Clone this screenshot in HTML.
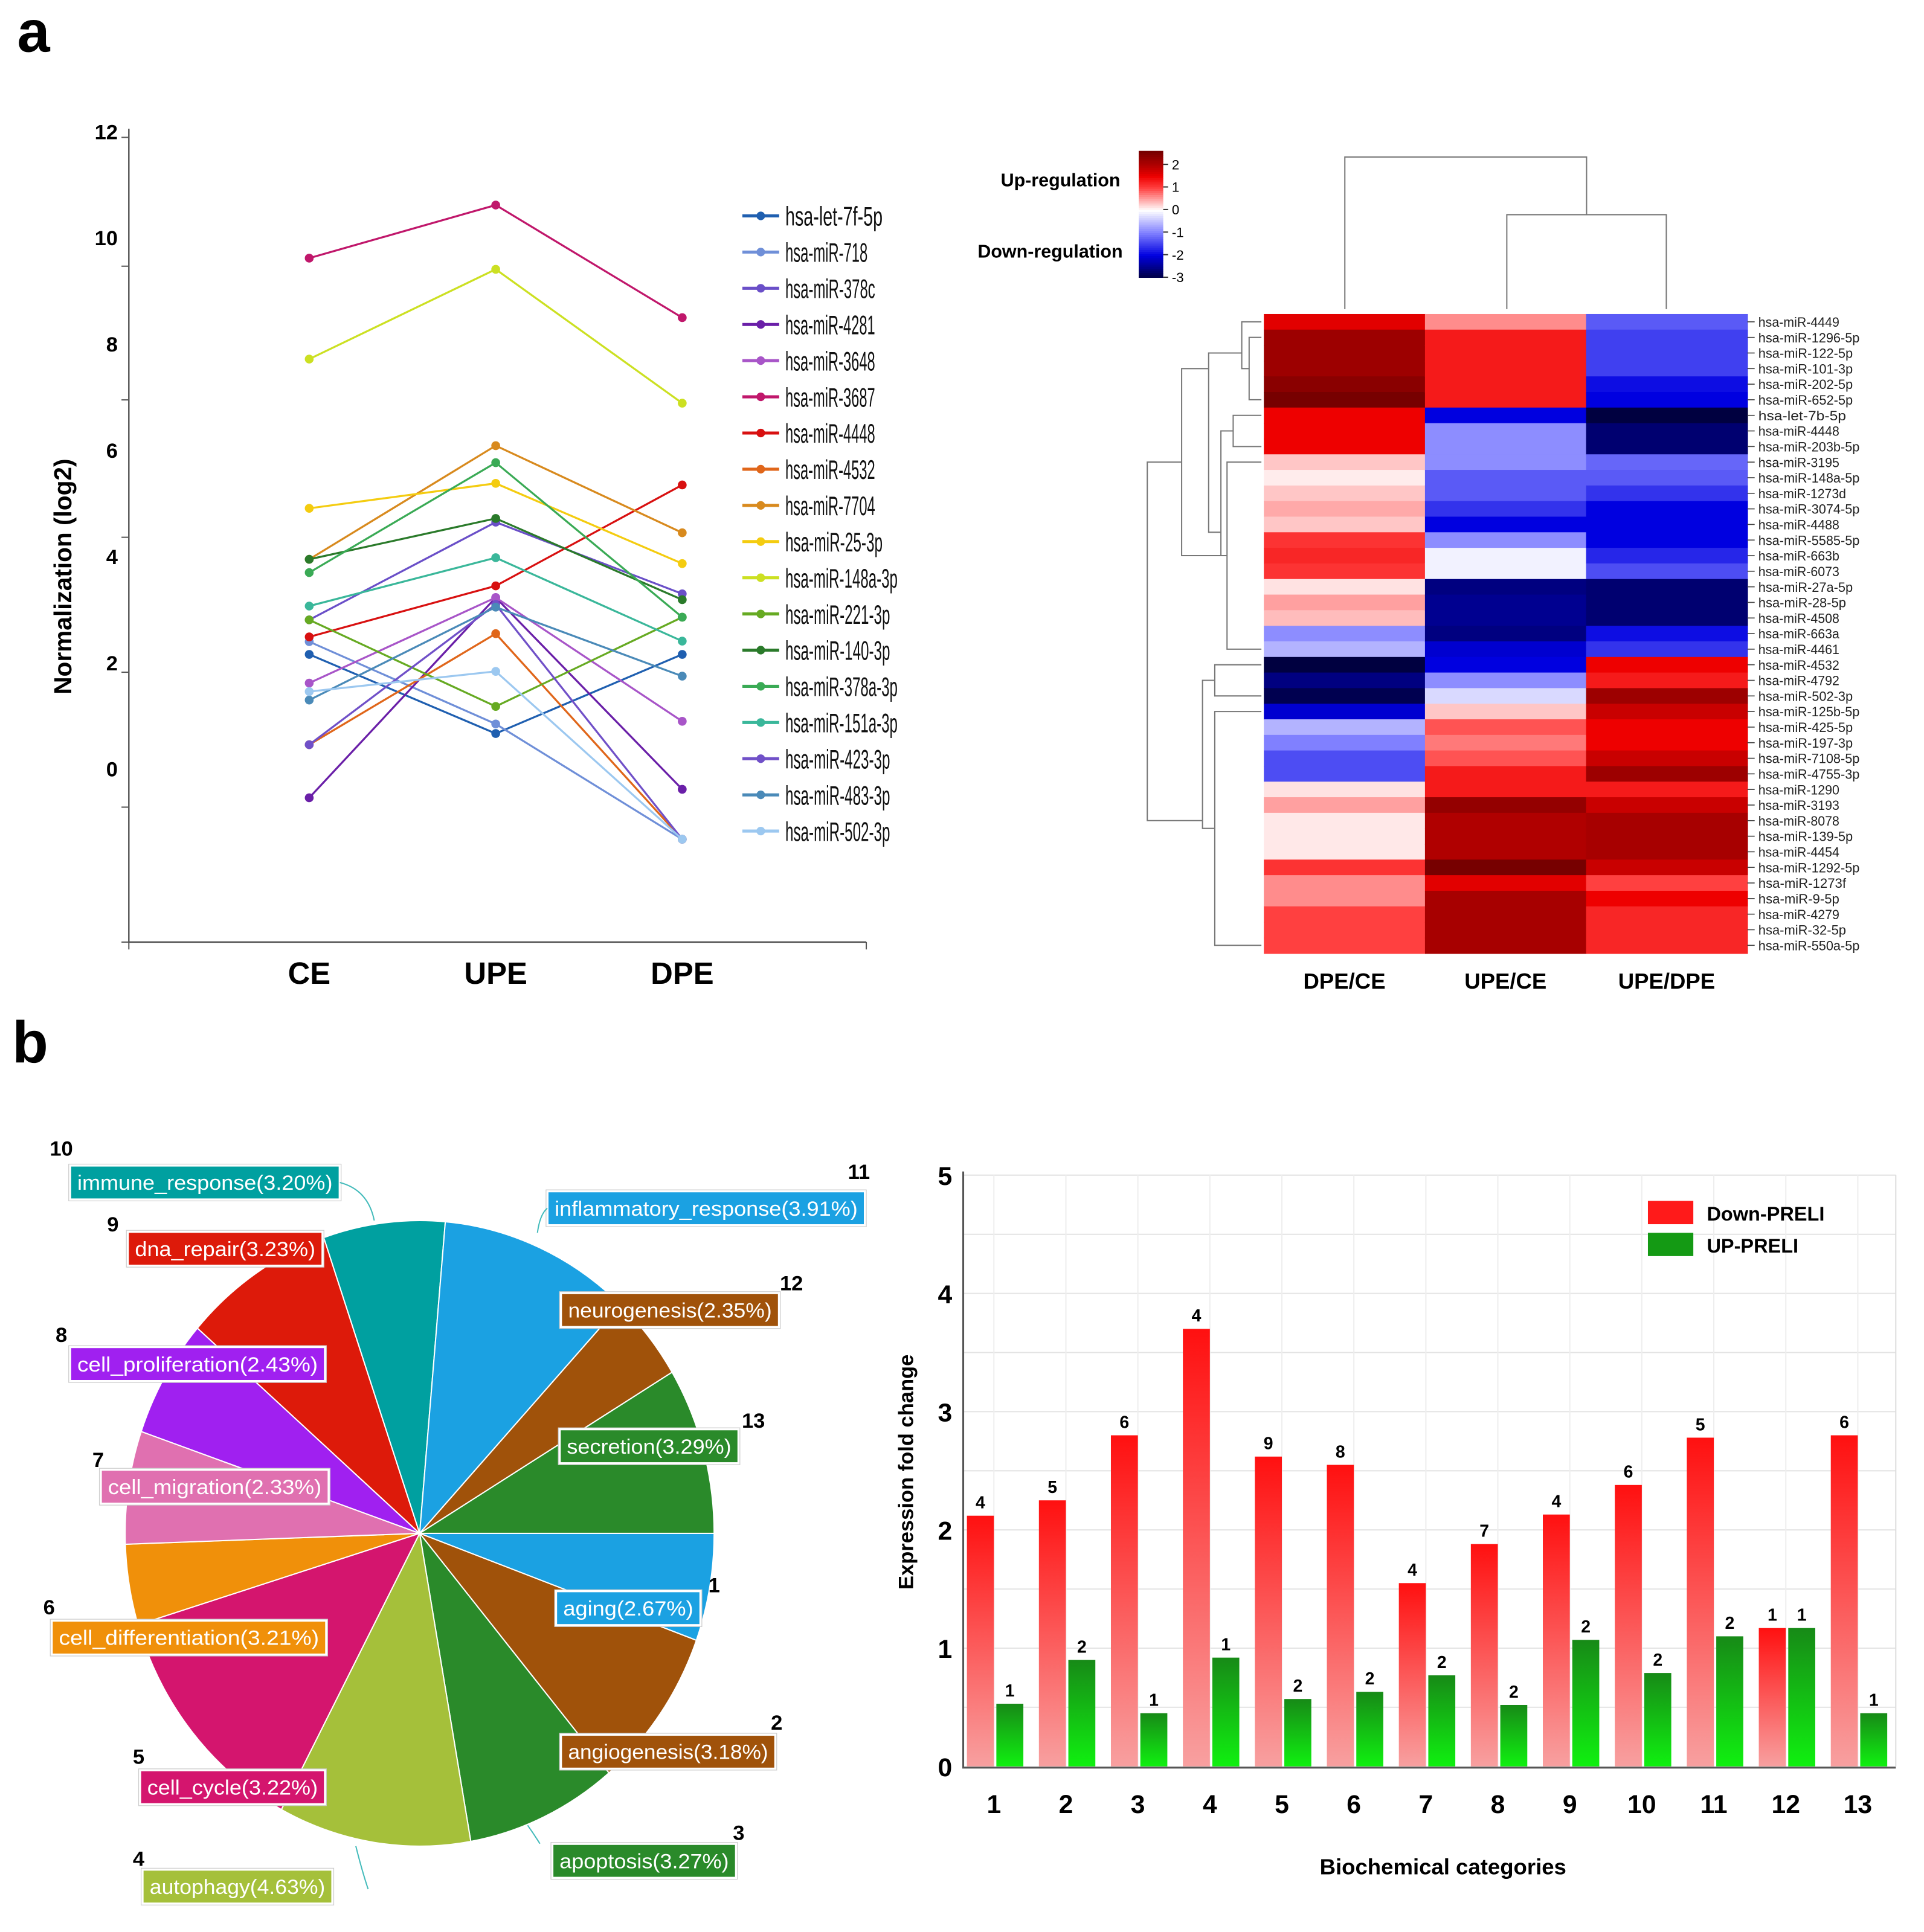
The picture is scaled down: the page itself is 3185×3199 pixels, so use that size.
<!DOCTYPE html>
<html><head><meta charset="utf-8">
<style>
html,body{margin:0;padding:0;background:#fff;}
svg{display:block;font-family:"Liberation Sans",Arial,sans-serif;}
</style></head>
<body>
<svg id="fig" width="3185" height="3199" viewBox="0 0 1568 1575" preserveAspectRatio="none" xmlns="http://www.w3.org/2000/svg">
<rect x="0" y="0" width="1568" height="1575" fill="#fff"/>
<text x="14" y="42" font-size="48" font-weight="bold">a</text>
<text x="10" y="866" font-size="48" font-weight="bold">b</text>
<g id="line"></g>
<g id="heat"></g>
<g id="pie"></g>
<g id="bar"></g>
</svg>
<script>
const NS='http://www.w3.org/2000/svg';
function mk(parent,tag,attrs,text){const e=document.createElementNS(NS,tag);for(const k in attrs)e.setAttribute(k,attrs[k]);if(text!==undefined)e.textContent=text;parent.appendChild(e);return e;}

/* ---------------- line chart data ---------------- */
const lineCategories=['CE','UPE','DPE'];
const lineSeriesNames=['hsa-let-7f-5p','hsa-miR-718','hsa-miR-378c','hsa-miR-4281','hsa-miR-3648','hsa-miR-3687','hsa-miR-4448','hsa-miR-4532','hsa-miR-7704','hsa-miR-25-3p','hsa-miR-148a-3p','hsa-miR-221-3p','hsa-miR-140-3p','hsa-miR-378a-3p','hsa-miR-151a-3p','hsa-miR-423-3p','hsa-miR-483-3p','hsa-miR-502-3p'];
const lineColors=['#1f5fb0','#6f8fd8','#6a4fc8','#6a1fa8','#a855c8','#c0176b','#d81010','#e0661a','#d88a1e','#f4cc10','#cce022','#66aa22','#2a7a2a','#3aaa55','#3ab79a','#7050c8','#4a8ab8','#9cc8f0'];
const lineValues=[
 [2.16,0.67,2.16],[2.4,0.85,-1.32],[2.81,4.65,3.3],[-0.54,3.23,-0.38],[1.62,3.23,0.9],
 [9.62,10.62,8.5],[2.49,3.45,5.35],[0.46,2.55,-1.32],[3.95,6.09,4.45],[4.91,5.38,3.87],
 [7.72,9.41,6.89],[2.81,1.18,2.86],[3.95,4.72,3.19],[3.7,5.77,2.86],[3.07,3.98,2.41],
 [0.46,3.1,-1.32],[1.3,3.05,1.75],[1.46,1.84,-1.32]];
const lineTickLabels=['12','10','8','6','4','2','0'];
const lineTickValues=[12,10,8,6,4,2,0];

/* ---------------- heatmap data ---------------- */
const heatColumns=['DPE/CE','UPE/CE','UPE/DPE'];
const heatRows=['hsa-miR-4449','hsa-miR-1296-5p','hsa-miR-122-5p','hsa-miR-101-3p','hsa-miR-202-5p','hsa-miR-652-5p','hsa-let-7b-5p','hsa-miR-4448','hsa-miR-203b-5p','hsa-miR-3195','hsa-miR-148a-5p','hsa-miR-1273d','hsa-miR-3074-5p','hsa-miR-4488','hsa-miR-5585-5p','hsa-miR-663b','hsa-miR-6073','hsa-miR-27a-5p','hsa-miR-28-5p','hsa-miR-4508','hsa-miR-663a','hsa-miR-4461','hsa-miR-4532','hsa-miR-4792','hsa-miR-502-3p','hsa-miR-125b-5p','hsa-miR-425-5p','hsa-miR-197-3p','hsa-miR-7108-5p','hsa-miR-4755-3p','hsa-miR-1290','hsa-miR-3193','hsa-miR-8078','hsa-miR-139-5p','hsa-miR-4454','hsa-miR-1292-5p','hsa-miR-1273f','hsa-miR-9-5p','hsa-miR-4279','hsa-miR-32-5p','hsa-miR-550a-5p'];
const heatDPECE=[1.6,2.2,2.2,2.2,2.4,2.6,1.5,1.5,1.5,0.3,0.1,0.3,0.45,0.3,1.1,1.2,1.1,0.15,0.5,0.35,-0.9,-0.6,-3.0,-2.6,-2.9,-2.1,-0.6,-1.0,-1.4,-1.4,0.15,0.5,0.12,0.12,0.12,1.1,0.6,0.6,1.0,1.0,1.0];
const heatUPECE=[0.6,1.3,1.3,1.3,1.3,1.3,-2.0,-0.9,-0.9,-0.9,-1.3,-1.3,-1.6,-2.0,-0.9,-0.1,-0.1,-2.6,-2.5,-2.5,-2.6,-2.1,-2.0,-0.9,-0.3,0.3,0.9,0.7,0.9,1.3,1.3,2.3,2.0,2.0,2.0,2.6,1.6,2.1,2.1,2.1,2.1];
const heatUPEDPE=[-1.3,-1.5,-1.5,-1.5,-1.9,-2.0,-3.0,-2.7,-2.7,-1.2,-1.3,-1.6,-2.0,-2.0,-2.0,-1.7,-1.4,-2.7,-2.7,-2.7,-1.9,-1.6,1.5,1.3,2.2,1.8,1.5,1.5,1.8,2.2,1.3,1.8,2.1,2.1,2.1,1.8,1.0,1.5,1.2,1.2,1.2];
const heatScaleLabels=['2','1','0','-1','-2','-3'];
const heatScaleValues=[2,1,0,-1,-2,-3];

/* ---------------- pie data ---------------- */
const pieLabels=['aging(2.67%)','angiogenesis(3.18%)','apoptosis(3.27%)','autophagy(4.63%)','cell_cycle(3.22%)','cell_differentiation(3.21%)','cell_migration(2.33%)','cell_proliferation(2.43%)','dna_repair(3.23%)','immune_response(3.20%)','inflammatory_response(3.91%)','neurogenesis(2.35%)','secretion(3.29%)'];
const pieSpanDeg=[20,30,30,38,45,15,21,22,30,24,38,16,31];
const pieColors=['#1ba1e2','#a0520a','#2a8a2a','#a5c03a','#d4156e','#f0900a','#e070b0','#a020f0','#dd1a0a','#00a0a0','#1ba1e2','#a0520a','#2a8a2a'];

/* ---------------- bar data ---------------- */
const barCategories=['1','2','3','4','5','6','7','8','9','10','11','12','13'];
const barDown=[2.12,2.25,2.8,3.7,2.62,2.55,1.55,1.88,2.13,2.38,2.78,1.17,2.8];
const barUp=[0.53,0.9,0.45,0.92,0.57,0.63,0.77,0.52,1.07,0.79,1.1,1.17,0.45];
const barDownLabels=['4','5','6','4','9','8','4','7','4','6','5','1','6'];
const barUpLabels=['1','2','1','1','2','2','2','2','2','2','2','1','1'];
const barTickLabels=['0','1','2','3','4','5'];
const barTickValues=[0,1,2,3,4,5];

/* ===== line chart ===== */
(function(){
const g=document.getElementById('line');
const xL=i=>252+i*152;
const yL=v=>627-v*43.3;
const ax=mk(g,'path',{d:'M105,105 L105,768 L706,768',stroke:'#555','stroke-width':1.2,fill:'none'});


[112,217,326,438,548,658,768].forEach(y=>mk(g,'line',{x1:99,x2:105,y1:y,y2:y,stroke:'#555'}));
[105,706].forEach(x=>mk(g,'line',{x1:x,x2:x,y1:768,y2:774,stroke:'#555'}));
lineTickValues.forEach((v,i)=>{const t=mk(g,'text',{x:96,y:yL(v)+6,'font-size':17,'font-weight':'bold','text-anchor':'end'},lineTickLabels[i]);

});
lineCategories.forEach((c,i)=>{const t=mk(g,'text',{x:xL(i),y:802,'font-size':25,'font-weight':'bold','text-anchor':'middle'},c);

});
const yt=mk(g,'text',{x:0,y:0,'font-size':20,'font-weight':'bold','text-anchor':'middle',transform:'translate(58,470) rotate(-90)'},'Normalization (log2)');


lineValues.forEach((s,k)=>{
 const pts=s.map((v,i)=>xL(i)+','+yL(v)).join(' ');
 const pl=mk(g,'polyline',{points:pts,fill:'none',stroke:lineColors[k],'stroke-width':1.6});
 
 
 s.forEach((v,i)=>{const c=mk(g,'circle',{cx:xL(i),cy:yL(v),r:3.6,fill:lineColors[k]});
 
 });
 const ly=176+k*29.5;
 const lg=mk(g,'g',{});
 
 
 mk(lg,'line',{x1:605,x2:635,y1:ly,y2:ly,stroke:lineColors[k],'stroke-width':2.5});
 mk(lg,'circle',{cx:620,cy:ly,r:3.5,fill:lineColors[k]});
 const w=lineSeriesNames[k].length*6.1;
 mk(lg,'text',{x:640,y:ly+8,'font-size':22,textLength:w,lengthAdjust:'spacingAndGlyphs',fill:'#111'},lineSeriesNames[k]);
});
})();

/* ===== heatmap ===== */
(function(){
const g=document.getElementById('heat');
const stops=[[-3,[0,0,64]],[-2,[0,0,224]],[-1,[128,128,255]],[0,[255,255,255]],[1,[255,64,64]],[1.5,[238,0,0]],[2,[176,0,0]],[2.7,[110,0,0]]];
function col(v){v=Math.max(-3,Math.min(2.7,v));for(let i=0;i<stops.length-1;i++){const[a,ca]=stops[i],[b,cb]=stops[i+1];if(v<=b){const t=(v-a)/(b-a);return 'rgb('+ca.map((c,j)=>Math.round(c+(cb[j]-c)*t)).join(',')+')';}}return 'rgb(110,0,0)';}
const x0=1030,cw=131.3,y0=256,rh=521/heatRows.length;
const colX=i=>x0+i*cw;
const rowY=r=>y0+r*rh;
const data=[heatDPECE,heatUPECE,heatUPEDPE];
data.forEach((arr,ci)=>arr.forEach((v,ri)=>{const r=mk(g,'rect',{x:colX(ci),y:rowY(ri),width:cw+0.6,height:rh+0.6,fill:col(v)});

}));
heatRows.forEach((n,ri)=>{const y=rowY(ri)+rh/2;mk(g,'line',{x1:1424,x2:1430,y1:y,y2:y,stroke:'#444','stroke-width':0.8});
const t=mk(g,'text',{x:1433,y:y+4,'font-size':11,fill:'#222',textLength:n.length*5.5,lengthAdjust:'spacingAndGlyphs'},n);

});
heatColumns.forEach((c,i)=>{const t=mk(g,'text',{x:colX(i)+cw/2,y:806,'font-size':18,'font-weight':'bold','text-anchor':'middle'},c);

});
// top dendrogram
const dend=mk(g,'path',{d:'M1228,252 L1228,175 L1358,175 L1358,252 M1096,252 L1096,128 L1293,128 L1293,175',fill:'none',stroke:'#777','stroke-width':1});


// left dendrogram (approximate)
const ry=r=>rowY(r)+rh/2;
const d=[];
function br(xm,ya,yb,xa,xb){d.push(`M${xa},${ya} L${xm},${ya} L${xm},${yb} L${xb},${yb}`);}
br(1012,ry(0),(ry(1)+ry(5))/2,1028,1018);
br(1018,ry(1),ry(5),1028,1028);
br(985,(ry(0)+ry(4))/2,(ry(6)+ry(21))/2,1012,995);
br(1005,ry(6),ry(8),1028,1028);
br(995,ry(7),(ry(9)+ry(21))/2,1005,1000);
br(1000,ry(9),ry(21),1028,1028);
br(963,ry(3),ry(15),985,995);
br(990,ry(22),ry(24),1028,1028);
br(980,ry(23),(ry(25)+ry(40))/2,990,990);
br(990,ry(25),ry(40),1028,1028);
br(935,ry(9),ry(32),963,980);
mk(g,'path',{d:d.join(' '),fill:'none',stroke:'#777','stroke-width':1});
// colour bar
const cb=mk(g,'g',{});


const cbY=v=>134-(v-2)*18.4;
for(let i=0;i<60;i++){const v=2.6-i*(5.6/60);mk(cb,'rect',{x:928,y:cbY(v),width:20,height:2.2,fill:col(v)});}
heatScaleValues.forEach((v,i)=>{mk(cb,'line',{x1:948,x2:952,y1:cbY(v),y2:cbY(v),stroke:'#333'});mk(cb,'text',{x:955,y:cbY(v)+4,'font-size':11},heatScaleLabels[i]);});
mk(g,'text',{x:913,y:152,'font-size':15,'font-weight':'bold','text-anchor':'end'},'Up-regulation');
mk(g,'text',{x:915,y:210,'font-size':15,'font-weight':'bold','text-anchor':'end'},'Down-regulation');
})();

/* ===== pie ===== */
(function(){
const g=document.getElementById('pie');
const cx=342,cy=1250,rx=240,ry=255;
let a=0;
pieSpanDeg.forEach((s,i)=>{
 const a1=a*Math.PI/180,a2=(a+s)*Math.PI/180;
 const p1=[cx+rx*Math.cos(a1),cy+ry*Math.sin(a1)],p2=[cx+rx*Math.cos(a2),cy+ry*Math.sin(a2)];
 const large=s>180?1:0;
 const p=mk(g,'path',{d:`M${cx},${cy} L${p1[0]},${p1[1]} A${rx},${ry} 0 ${large} 1 ${p2[0]},${p2[1]} Z`,fill:pieColors[i],stroke:'#fff','stroke-width':1});
 
 
 a+=s;
});
const boxes=[[453,1297,118,'1',582,1292],[457,1414,175,'2',633,1404],[450,1503,150,'3',602,1494],[116,1524,155,'4',113,1515],[114,1443,151,'5',113,1432],[42,1321,224,'6',40,1310],[82,1198,186,'7',80,1190],[57,1098,208,'8',50,1088],[104,1004,159,'9',92,998],[57,950,220,'10',50,936],[446,971,259,'11',700,955],[457,1054,178,'12',645,1046],[456,1165,146,'13',614,1158]];
boxes.forEach((b,i)=>{
 const lg=mk(g,'g',{});
 
 
 mk(lg,'rect',{x:b[0],y:b[1],width:b[2],height:28,fill:pieColors[i],stroke:'#fff','stroke-width':2});
 mk(lg,'rect',{x:b[0]-1,y:b[1]-1,width:b[2]+2,height:30,fill:'none',stroke:'#ccc','stroke-width':0.6});
 mk(lg,'text',{x:b[0]+6,y:b[1]+20,'font-size':17,fill:'#fff',textLength:b[2]-12,lengthAdjust:'spacingAndGlyphs'},pieLabels[i]);
 mk(lg,'text',{x:b[4],y:b[5]+6,'font-size':17,'font-weight':'bold','text-anchor':'middle'},b[3]);
});
mk(g,'path',{d:'M277,964 Q300,970 305,995 M446,985 Q440,990 438,1005 M300,1540 Q295,1525 290,1505 M440,1503 Q435,1495 430,1488',fill:'none',stroke:'#4bb','stroke-width':1});
})();

/* ===== bar chart ===== */
(function(){
const g=document.getElementById('bar');
const yB=v=>1440-v*96.4;
const xB=i=>810+i*58.67;
for(let v=0.5;v<=5;v+=0.5)mk(g,'line',{x1:785,x2:1545,y1:yB(v),y2:yB(v),stroke:'#e4e4e4','stroke-width':1});
barCategories.forEach((c,i)=>mk(g,'line',{x1:xB(i),x2:xB(i),y1:yB(5),y2:1440,stroke:'#eee','stroke-width':1}));
mk(g,'line',{x1:1545,x2:1545,y1:yB(5),y2:1440,stroke:'#ddd'});
const defs=mk(g,'defs',{});
const gr=mk(defs,'linearGradient',{id:'gRed',x1:0,y1:0,x2:0,y2:1});mk(gr,'stop',{offset:0,'stop-color':'#ff1010'});mk(gr,'stop',{offset:1,'stop-color':'#f8a0a0'});
const gg=mk(defs,'linearGradient',{id:'gGreen',x1:0,y1:0,x2:0,y2:1});mk(gg,'stop',{offset:0,'stop-color':'#178a17'});mk(gg,'stop',{offset:1,'stop-color':'#10f010'});
barCategories.forEach((c,i)=>{
 const r=mk(g,'rect',{x:xB(i)-22,y:yB(barDown[i]),width:22,height:1440-yB(barDown[i]),fill:'url(#gRed)'});
 
 
 const u=mk(g,'rect',{x:xB(i)+2,y:yB(barUp[i]),width:22,height:1440-yB(barUp[i]),fill:'url(#gGreen)'});
 
 
 mk(g,'text',{x:xB(i)-11,y:yB(barDown[i])-6,'font-size':14,'font-weight':'bold','text-anchor':'middle'},barDownLabels[i]);
 mk(g,'text',{x:xB(i)+13,y:yB(barUp[i])-6,'font-size':14,'font-weight':'bold','text-anchor':'middle'},barUpLabels[i]);
 const t=mk(g,'text',{x:xB(i),y:1478,'font-size':21,'font-weight':'bold','text-anchor':'middle'},c);
 
 
});
mk(g,'path',{d:'M785,955 L785,1441 L1545,1441',stroke:'#555','stroke-width':1.5,fill:'none'});
barTickValues.forEach((v,i)=>{const t=mk(g,'text',{x:776,y:yB(v)+8,'font-size':21,'font-weight':'bold','text-anchor':'end'},barTickLabels[i]);

});
const yt=mk(g,'text',{x:0,y:0,'font-size':17,'font-weight':'bold','text-anchor':'middle',transform:'translate(744,1200) rotate(-90)'},'Expression fold change');


const xt=mk(g,'text',{x:1176,y:1528,'font-size':18,'font-weight':'bold','text-anchor':'middle'},'Biochemical categories');


const l1=mk(g,'g',{});


mk(l1,'rect',{x:1343,y:979,width:37,height:19,fill:'#ff1a1a'});
mk(l1,'text',{x:1391,y:995,'font-size':16,'font-weight':'bold'},'Down-PRELI');
const l2=mk(g,'g',{});


mk(l2,'rect',{x:1343,y:1005,width:37,height:19,fill:'#149a14'});
mk(l2,'text',{x:1391,y:1021,'font-size':16,'font-weight':'bold'},'UP-PRELI');
})();
</script>
</body></html>
